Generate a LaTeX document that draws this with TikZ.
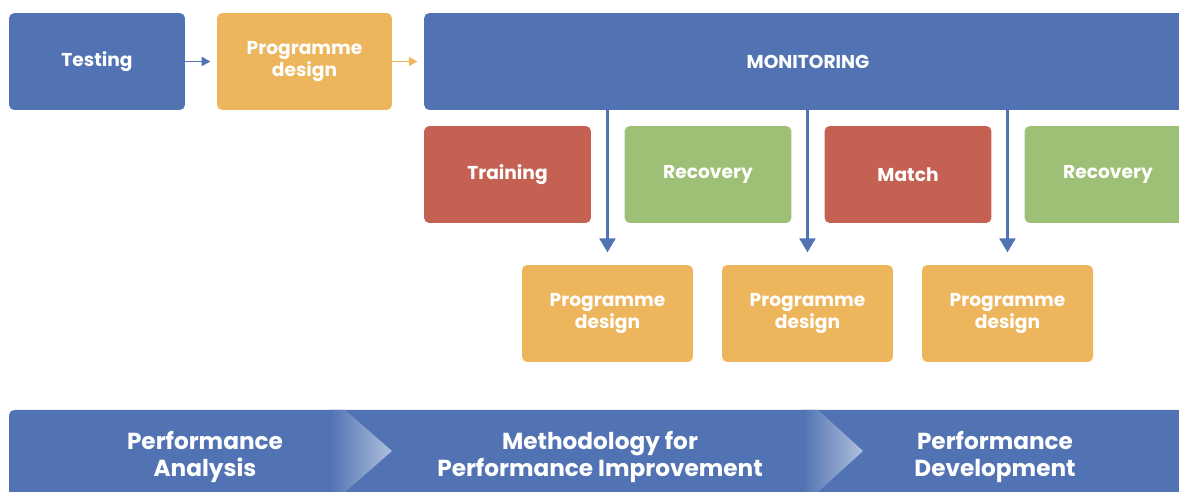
\documentclass[tikz,border=0pt]{standalone}
\usepackage{fontspec}
\setsansfont{Poppins}
\usepackage{tikz}
\usetikzlibrary{arrows.meta, positioning, calc, shadings}
\definecolor{PlanBlue}{HTML}{5173B3}
\definecolor{PlanOrange}{HTML}{EDB55C}
\definecolor{PlanRed}{HTML}{C56153}
\definecolor{PlanGreen}{HTML}{9DC076}
\tikzset{
  planbox/.style={rectangle, rounded corners=3pt, text=white, minimum width=3.5cm, minimum height=1.94cm, font=\sffamily\bfseries\fontsize{10.6}{12}\selectfont, align=center, inner sep=0pt},
  bluebox/.style={planbox, fill=PlanBlue},
  orangebox/.style={planbox, fill=PlanOrange},
  redbox/.style={planbox, fill=PlanRed, minimum width=3.34cm},
  greenbox/.style={planbox, fill=PlanGreen, minimum width=3.34cm},
  bannertext/.style={text=white, font=\sffamily\bfseries\fontsize{13.2}{15.5}\selectfont, align=center},
  arrow/.style={-{Triangle[width=5pt,length=5pt]}, line width=1.1pt, PlanBlue},
  downarrow/.style={-{Triangle[width=9pt,length=8pt]}, line width=1.7pt, PlanBlue, shorten >=7pt}
}

\begin{document}
\begin{tikzpicture}[x=0.02cm, y=-0.02cm]
  \clip (0,0) rectangle (1179,492);
  \useasboundingbox (0,0) rectangle (1179,492);

  % top row
  \node[bluebox, minimum width=3.52cm] (test) at (97,61.5) {Testing};
  \node[orangebox] (pd0) at (304.5,61.5) {Programme\\design};
  \node[bluebox, minimum width=15.36cm] (monitor) at (808,61.5) {MONITORING};
  \draw[arrow, shorten >=3.5pt] (test) -- (pd0);
  \draw[arrow, PlanOrange, shorten >=3.5pt] (pd0) -- (monitor);

  % sessions
  \node[redbox] (train) at (507.5,174.5) {Training};
  \node[greenbox] (rec1) at (708,174.5) {Recovery};
  \node[redbox] (match) at (908,174.5) {Match};
  \node[greenbox] (rec2) at (1108,174.5) {Recovery};

  % programme design per step
  \node[orangebox, minimum width=3.42cm] (pd1) at (607.5,313.5) {Programme\\design};
  \node[orangebox, minimum width=3.42cm] (pd2) at (807.5,313.5) {Programme\\design};
  \node[orangebox, minimum width=3.42cm] (pd3) at (1007.5,313.5) {Programme\\design};
  \foreach \p in {pd1,pd2,pd3}
    \draw[downarrow] (monitor.south -| \p.north) -- (\p.north);

  % bottom banner
  \fill[PlanBlue, rounded corners=3pt] (9,410) rectangle (1210,510);
  \shade[left color=PlanBlue, right color=PlanBlue!45!white] (330,410) -- (345,410) -- (392,451) -- (345,492) -- (330,492) -- cycle;
  \shade[left color=PlanBlue, right color=PlanBlue!45!white] (803,410) -- (818,410) -- (863,451) -- (818,492) -- (803,492) -- cycle;
  \node[bannertext] (analysis) at (205,457) {Performance\\Analysis};
  \node[bannertext] (method) at (600,457) {Methodology for\\Performance Improvement};
  \node[bannertext] (develop) at (995,457) {Performance\\Development};
\end{tikzpicture}
\end{document}
